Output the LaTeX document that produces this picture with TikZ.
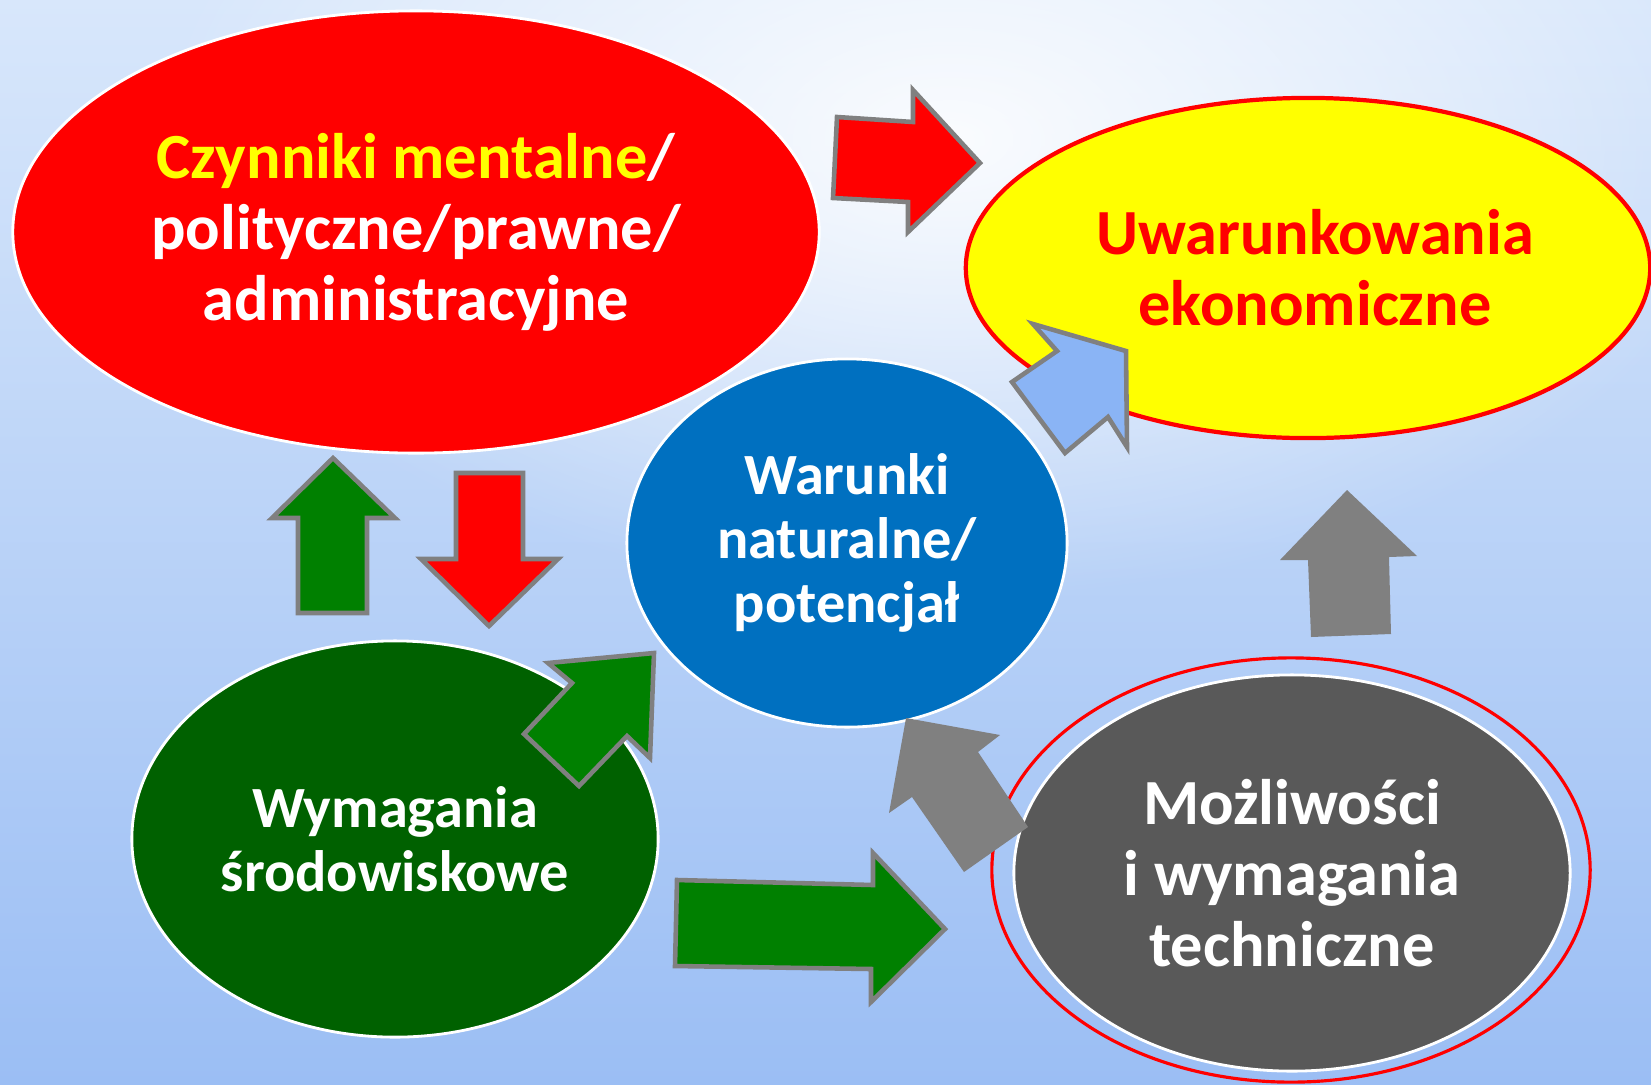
\documentclass[tikz,border=0pt]{standalone}
\usepackage{fontspec}
\setmainfont{Carlito}
\usetikzlibrary{shapes.geometric,fadings}
\definecolor{bgtop}{HTML}{D8E7FB}
\definecolor{bgmid}{HTML}{CCDFFA}
\definecolor{bgbot}{HTML}{9BBEF4}
\definecolor{cred}{HTML}{FF0000}
\definecolor{cyel}{HTML}{FFFF00}
\definecolor{cblue}{HTML}{0070C0}
\definecolor{cdgreen}{HTML}{006100}
\definecolor{cgreen}{HTML}{008000}
\definecolor{cdgray}{HTML}{595959}
\definecolor{cgray}{HTML}{808080}
\definecolor{clblue}{HTML}{8AB4F5}
\tikzfading[name=myglow, inner color=transparent!10, outer color=transparent!100]
\tikzset{
  blob/.style={ellipse, draw=white, line width=0.8pt, inner sep=0pt, align=center,
    font=\bfseries\fontsize{18.3}{20.2}\selectfont, text=white},
  smalltext/.style={font=\bfseries\fontsize{16.6}{18.3}\selectfont},
  barrow/.style={draw=cgray, line width=1.3pt, line join=miter},
  plainarrow/.style={fill=cgray, draw=none}
}
\begin{document}
\begin{tikzpicture}[x=0.01cm, y=-0.01cm]
\useasboundingbox (0,0) rectangle (1651,1084);
\begin{scope}
\clip (0,0) rectangle (1651,1084);
\shade[top color=bgtop, middle color=bgmid, bottom color=bgbot] (0,0) rectangle (1651,1084);
\fill[white, path fading=myglow] (950,140) ellipse (800 and 460);
\end{scope}

% ellipses
\node[blob, fill=cred, minimum width=8.06cm, minimum height=4.42cm] (mental) at (416,232)
  {\textcolor{cyel}{Czynniki mentalne}/\\polityczne/prawne/\\administracyjne};
\node[blob, draw=cred, line width=1.2pt, fill=cyel, minimum width=6.84cm, minimum height=3.40cm] (econ) at (1308,268) {};
\node[align=center, font=\bfseries\fontsize{18.3}{20.2}\selectfont, text=cred, inner sep=0pt] (econtext) at (1315,268)
  {Uwarunkowania\\ekonomiczne};
\node[blob, smalltext, fill=cblue, minimum width=4.40cm, minimum height=3.68cm] (natural) at (847,543)
  {Warunki\\naturalne/\\potencjał};
\node[blob, smalltext, fill=cdgreen, minimum width=5.26cm, minimum height=3.96cm] (env) at (395,839)
  {Wymagania\\środowiskowe};
\node[ellipse, draw=cred, line width=0.9pt, minimum width=5.98cm, minimum height=4.24cm] (techring) at (1291,870) {};
\node[blob, fill=cdgray, minimum width=5.56cm, minimum height=3.96cm] (tech) at (1292,873)
  {Możliwości\\i wymagania\\techniczne};

% block arrows
\draw[barrow, fill=cred] (837,117) -- (913,122) -- (913,90) -- (980,163) -- (908,232) -- (908,202) -- (833,198) -- cycle;
\draw[barrow, fill=clblue] (1033,324) -- (1126,351) -- (1127,447) -- (1108,417) -- (1065,453) -- (1012,382) -- (1057,351) -- cycle;
\draw[barrow, fill=cgreen] (548,663) -- (654,653) -- (650,758) -- (627,736) -- (579,786) -- (524,734) -- (572,683) -- cycle;
\fill[plainarrow] (906,718) -- (1000,735) -- (978,752) -- (1028,827) -- (964,872) -- (912,797) -- (889,813) -- cycle;
\fill[plainarrow] (1347,490) -- (1417,556) -- (1389,557) -- (1391,634) -- (1311,637) -- (1308,560) -- (1280,560) -- cycle;
\draw[barrow, fill=cgreen] (333,458) -- (395,518) -- (367,518) -- (367,613) -- (298,613) -- (298,518) -- (272,518) -- cycle;
\draw[barrow, fill=cred] (456,473) -- (523,473) -- (523,559) -- (558,559) -- (489,626) -- (421,559) -- (456,559) -- cycle;
\draw[barrow, fill=cgreen] (677,880) -- (873,885) -- (873,853) -- (945,929) -- (871,1002) -- (871,969) -- (675,966) -- cycle;
\end{tikzpicture}
\end{document}
